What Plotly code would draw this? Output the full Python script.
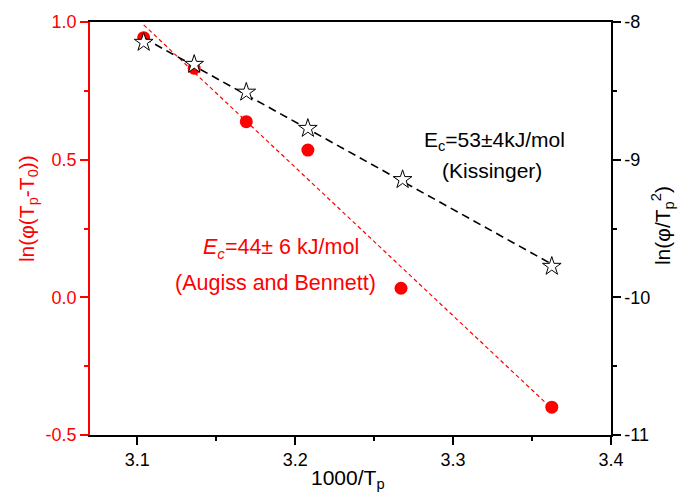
import numpy as np
import plotly.graph_objects as go

# Data
x_ab = [3.104, 3.136, 3.169, 3.208, 3.267, 3.3625]
y_ab = [0.943, 0.832, 0.638, 0.535, 0.033, -0.399]   # ln(phi(Tp-T0)), left axis
x_k = [3.104, 3.136, 3.169, 3.208, 3.268, 3.3625]
y_k = [-8.148, -8.308, -8.51, -8.773, -9.145, -9.775]  # ln(phi/Tp^2), right axis

x_ticks = [3.1, 3.2, 3.3, 3.4]
x_ticktext = ["3.1", "3.2", "3.3", "3.4"]
yl_ticks = [-0.5, 0.0, 0.5, 1.0]
yl_ticktext = ["-0.5", "0.0", "0.5", "1.0"]
yr_ticks = [-11, -10, -9, -8]
yr_ticktext = ["-11", "-10", "-9", "-8"]

FONT = "Liberation Sans, Arial, sans-serif"
RED = "#ff0000"

# linear fits
p_ab = np.polyfit(x_ab, y_ab, 1)
p_k = np.polyfit(x_k, y_k, 1)
fx_ab = np.array([min(x_ab), max(x_ab)])
fx_k = np.array([min(x_k), max(x_k)])

fig = go.Figure()
fig.add_trace(go.Scatter(x=fx_ab, y=np.polyval(p_ab, fx_ab), mode="lines",
                         line=dict(color=RED, width=1.2, dash="4px,3px"), showlegend=False))
fig.add_trace(go.Scatter(x=x_ab, y=y_ab, mode="markers",
                         marker=dict(color=RED, size=13, symbol="circle"), showlegend=False))
fig.add_trace(go.Scatter(x=fx_k, y=np.polyval(p_k, fx_k), mode="lines", yaxis="y2",
                         line=dict(color="black", width=1.6, dash="8px,5px"), showlegend=False))
fig.add_trace(go.Scatter(x=x_k, y=y_k, mode="markers", yaxis="y2",
                         marker=dict(color="white", size=14, symbol="star",
                                     line=dict(color="black", width=1)), showlegend=False))

common_tick = dict(ticks="outside", ticklen=8, tickwidth=1.5, showgrid=False, zeroline=False,
                   showline=True, linewidth=1.5)

fig.update_layout(
    width=692, height=500,
    margin=dict(l=90, r=81, t=16, b=65),
    paper_bgcolor="white", plot_bgcolor="white",
    font=dict(family=FONT, size=18, color="black"),
    xaxis=dict(range=[3.07, 3.4], tickvals=x_ticks, ticktext=x_ticktext,
               linecolor="black", tickcolor="black", mirror=True,
               minor=dict(dtick=0.05, tick0=3.05, ticklen=4, tickcolor="black", ticks="outside", tickwidth=1.5),
               tickfont=dict(family=FONT, size=18, color="black"), **common_tick),
    yaxis=dict(range=[-0.5, 1.0], tickvals=yl_ticks, ticktext=yl_ticktext,
               linecolor=RED, tickcolor=RED, tickfont=dict(family=FONT, size=18, color=RED),
               minor=dict(dtick=0.25, tick0=-0.5, ticklen=4, tickcolor=RED, ticks="outside", tickwidth=1.5),
               **common_tick),
    yaxis2=dict(range=[-11, -8], tickvals=yr_ticks, ticktext=yr_ticktext, overlaying="y", side="right",
                linecolor="black", tickcolor="black", tickfont=dict(family=FONT, size=18, color="black"),
                minor=dict(dtick=0.5, tick0=-11, ticklen=4, tickcolor="black", ticks="outside", tickwidth=1.5),
                **common_tick),
)

def A(text, x, y, color, size, angle=0):
    return dict(text=text, x=x, y=y, xref="paper", yref="paper", xanchor="center", yanchor="middle",
                textangle=angle, showarrow=False, font=dict(family=FONT, size=size, color=color))

ann = [
    A("ln(φ(T<sub>p</sub>-T<sub>0</sub>))", -0.119, 0.547, RED, 21, -90),
    A("ln(φ/T<sub>p</sub><sup>2</sup>)", 1.098, 0.506, "black", 21, -90),
    A("1000/T<sub>p</sub>", 0.495, -0.107, "black", 21),
    A("<i>E<sub>c</sub></i>=44± 6 kJ/mol", 0.3666, 0.452, RED, 21.5),
    A("(Augiss and Bennett)", 0.357, 0.368, RED, 21.5),
    A("E<sub>c</sub>=53±4kJ/mol", 0.777, 0.712, "black", 21),
    A("(Kissinger)", 0.7716, 0.6396, "black", 21),
]
fig.update_layout(annotations=ann)

fig.write_html("out.html")
